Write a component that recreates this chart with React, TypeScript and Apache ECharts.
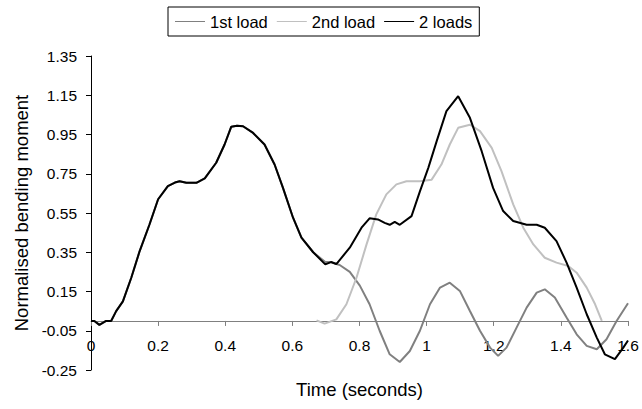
import React, { useEffect, useRef } from "react";
import * as echarts from "echarts";

const xTickMin = 0;
const xTickMax = 1.6;
const xTickStep = 0.2;
const yTickMin = -0.25;
const yTickMax = 1.35;
const yTickStep = 0.2;

const seriesNames = ["1st load", "2nd load", "2 loads"];

const bothTime = [0, 0.01, 0.025, 0.045, 0.06, 0.075, 0.095, 0.12, 0.145, 0.174, 0.2, 0.229, 0.25, 0.264, 0.284, 0.314, 0.339, 0.373, 0.398, 0.418, 0.435, 0.453, 0.483, 0.517, 0.547, 0.572, 0.602, 0.627, 0.662, 0.698, 0.715, 0.731, 0.771, 0.806, 0.83, 0.855, 0.875, 0.89, 0.905, 0.92, 0.955, 0.98, 1.005, 1.03, 1.059, 1.094, 1.129, 1.164, 1.198, 1.228, 1.258, 1.298, 1.328, 1.352, 1.387, 1.417, 1.447, 1.477, 1.507, 1.531, 1.561, 1.586, 1.6];
const bothValue = [0.0, 0.0, -0.02, 0.0, 0.0, 0.05, 0.1, 0.22, 0.356, 0.49, 0.62, 0.687, 0.705, 0.712, 0.704, 0.704, 0.726, 0.806, 0.899, 0.99, 0.995, 0.992, 0.958, 0.899, 0.797, 0.678, 0.526, 0.424, 0.35, 0.288, 0.3, 0.29, 0.373, 0.475, 0.523, 0.517, 0.5, 0.49, 0.505, 0.49, 0.534, 0.66, 0.78, 0.916, 1.069, 1.145, 1.035, 0.865, 0.678, 0.56, 0.509, 0.49, 0.49, 0.475, 0.407, 0.297, 0.17, 0.034, -0.085, -0.17, -0.195, -0.136, -0.1];

const firstTime = [0, 0.01, 0.025, 0.045, 0.06, 0.075, 0.095, 0.12, 0.145, 0.174, 0.2, 0.229, 0.25, 0.264, 0.284, 0.314, 0.339, 0.373, 0.398, 0.418, 0.435, 0.453, 0.483, 0.517, 0.547, 0.572, 0.602, 0.627, 0.662, 0.698, 0.715, 0.731, 0.741, 0.771, 0.801, 0.83, 0.86, 0.89, 0.92, 0.95, 0.98, 1.01, 1.04, 1.069, 1.099, 1.129, 1.159, 1.189, 1.213, 1.238, 1.268, 1.298, 1.328, 1.352, 1.382, 1.417, 1.447, 1.477, 1.507, 1.536, 1.566, 1.6];
const firstValue = [0.0, 0.0, -0.02, 0.0, 0.0, 0.05, 0.1, 0.22, 0.356, 0.49, 0.62, 0.687, 0.705, 0.712, 0.704, 0.704, 0.726, 0.806, 0.899, 0.99, 0.995, 0.992, 0.958, 0.899, 0.797, 0.678, 0.526, 0.424, 0.35, 0.3, 0.3, 0.29, 0.285, 0.25, 0.18, 0.085, -0.05, -0.17, -0.209, -0.153, -0.05, 0.085, 0.17, 0.195, 0.153, 0.051, -0.05, -0.136, -0.178, -0.136, -0.034, 0.068, 0.144, 0.161, 0.119, 0.017, -0.068, -0.127, -0.144, -0.093, 0.0, 0.09];

const secondTime = [0.672, 0.696, 0.731, 0.761, 0.791, 0.821, 0.85, 0.88, 0.91, 0.94, 0.98, 1.015, 1.044, 1.069, 1.094, 1.129, 1.159, 1.194, 1.223, 1.258, 1.288, 1.318, 1.352, 1.387, 1.422, 1.447, 1.477, 1.502, 1.522];
const secondValue = [0.003, -0.014, 0.008, 0.085, 0.22, 0.39, 0.543, 0.645, 0.696, 0.712, 0.712, 0.72, 0.797, 0.899, 0.984, 1.0, 0.967, 0.882, 0.763, 0.594, 0.475, 0.39, 0.322, 0.297, 0.28, 0.246, 0.17, 0.085, 0.0];

const zip = (t: number[], v: number[]) => t.map((x, i) => [x, v[i]]);

const FONT = "'Liberation Sans', Arial, sans-serif";

export default function App() {
  const ref = useRef<HTMLDivElement>(null);
  useEffect(() => {
    if (!ref.current) return;
    const chart = echarts.init(ref.current, null, { renderer: "svg" });
    chart.setOption({
      animation: false,
      backgroundColor: "#ffffff",
      textStyle: { fontFamily: FONT },
      legend: {
        orient: "horizontal",
        left: 168,
        top: 7,
        padding: [6, 7],
        itemGap: 9,
        itemWidth: 30,
        itemHeight: 1,
        icon: "rect",
        borderColor: "#000",
        borderWidth: 1,
        borderRadius: 0,
        textStyle: { fontFamily: FONT, fontSize: 16.5, color: "#000" },
        data: seriesNames,
      },
      grid: { left: 91, right: 14, top: 56, bottom: 39, containLabel: false, outerBoundsMode: "none" },
      xAxis: [
        {
          type: "value",
          min: xTickMin,
          max: xTickMax,
          interval: xTickStep,
          position: "bottom",
          name: "Time (seconds)",
          nameLocation: "middle",
          nameGap: 10,
          nameMoveOverlap: false,
          nameTextStyle: { fontFamily: FONT, fontSize: 18.5, color: "#000", verticalAlign: "top" },
          axisLine: { show: false, onZero: false },
          axisTick: { show: false },
          axisLabel: {
            margin: -33,
            fontFamily: FONT,
            fontSize: 15.5,
            color: "#000",
            formatter: (v: number) => String(Math.round(v * 10) / 10),
          },
          splitLine: { show: false },
        },
        {
          type: "value",
          min: xTickMin,
          max: xTickMax,
          interval: xTickStep,
          position: "bottom",
          axisLine: { show: true, onZero: true, lineStyle: { color: "#808080", width: 1 } },
          axisTick: { show: true, inside: false, length: 5, lineStyle: { color: "#808080" } },
          axisLabel: { show: false },
          splitLine: { show: false },
        },
      ],
      yAxis: {
        type: "value",
        min: yTickMin,
        max: yTickMax,
        interval: yTickStep,
        name: "Normalised bending moment",
        nameLocation: "middle",
        nameGap: 60,
        nameTextStyle: { fontFamily: FONT, fontSize: 18.5, color: "#000" },
        axisLine: { show: true, onZero: false, lineStyle: { color: "#000", width: 1 } },
        axisTick: { show: true, inside: false, length: 5, lineStyle: { color: "#000" } },
        axisLabel: {
          margin: 14,
          fontFamily: FONT,
          fontSize: 15.5,
          color: "#000",
          formatter: (v: number) => v.toFixed(2),
        },
        splitLine: { show: false },
      },
      series: [
        {
          name: seriesNames[0],
          type: "line",
          xAxisIndex: 0,
          data: zip(firstTime, firstValue),
          showSymbol: false,
          symbol: "none",
          lineStyle: { color: "#808080", width: 2 },
          itemStyle: { color: "#808080" },
        },
        {
          name: seriesNames[1],
          type: "line",
          xAxisIndex: 0,
          data: zip(secondTime, secondValue),
          showSymbol: false,
          symbol: "none",
          lineStyle: { color: "#c0c0c0", width: 2 },
          itemStyle: { color: "#c0c0c0" },
        },
        {
          name: seriesNames[2],
          type: "line",
          xAxisIndex: 0,
          data: zip(bothTime, bothValue),
          showSymbol: false,
          symbol: "none",
          lineStyle: { color: "#000000", width: 2 },
          itemStyle: { color: "#000000" },
        },
      ],
    });
    return () => chart.dispose();
  }, []);
  return (
    <div
      ref={ref}
      style={{ position: "fixed", left: 0, top: 0, width: 642, height: 409, background: "#fff" }}
    />
  );
}
